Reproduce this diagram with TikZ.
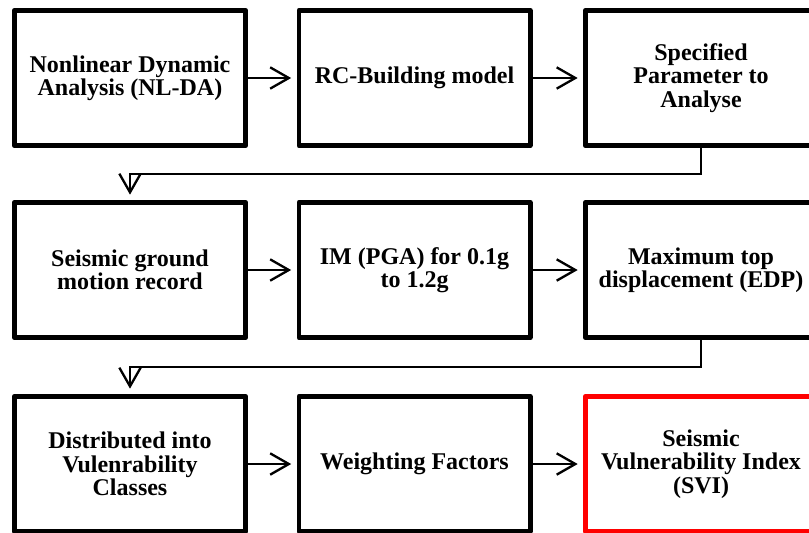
\documentclass[tikz,border=0pt]{standalone}
\usepackage{fontspec}
\setmainfont{Liberation Serif}
\usetikzlibrary{arrows.meta}

\tikzset{every picture/.style={line width=0.75pt}}
\tikzset{
	stage/.style={draw, line width=3.5pt, line join=round, inner sep=0pt,
		minimum width=173.5pt, minimum height=101.5pt, align=center,
		font=\fontsize{18}{17.5}\selectfont\bfseries},
	result/.style={stage, draw=red},
	flow/.style={line width=1.75pt, shorten >=4pt,
		-{Straight Barb[length=14pt,width=16pt]}}}

\begin{document}
\begin{tikzpicture}[x=0.75pt,y=0.75pt,yscale=-1,xscale=1]
	\useasboundingbox (0,0) rectangle (809,532);

	%Shape: Rectangle (first row)
	\node[stage] (nlda) at (130,78) {Nonlinear Dynamic\\Analysis (NL-DA)};
	%Shape: Rectangle
	\node[stage] (model) at (414.5,78) {RC-Building model};
	%Shape: Rectangle
	\node[stage] (param) at (701,78) {Specified\\Parameter to\\Analyse};

	%Shape: Rectangle (second row)
	\node[stage] (record) at (130,270) {Seismic ground\\motion record};
	%Shape: Rectangle
	\node[stage] (pga) at (414.5,270) {IM (PGA) for 0.1g\\to 1.2g};
	%Shape: Rectangle
	\node[stage] (edp) at (701,270) {Maximum top\\displacement (EDP)};

	%Shape: Rectangle (third row)
	\node[stage] (classes) at (130,464) {Distributed into\\Vulenrability\\Classes};
	%Shape: Rectangle
	\node[stage] (weights) at (414.5,464) {Weighting Factors};
	%Shape: Rectangle
	\node[result] (svi) at (701,464) {Seismic\\Vulnerability Index\\(SVI)};

	%Straight Lines
	\draw[flow] (nlda.east) -- (model.west);
	\draw[flow] (model.east) -- (param.west);
	\draw[flow] (record.east) -- (pga.west);
	\draw[flow] (pga.east) -- (edp.west);
	\draw[flow] (classes.east) -- (weights.west);
	\draw[flow] (weights.east) -- (svi.west);

	%Straight Lines (row to row)
	\draw[flow] (param.south) -- ++(0,26) -| (record.north);
	\draw[flow] (edp.south) -- ++(0,27) -| (classes.north);

\end{tikzpicture}
\end{document}
